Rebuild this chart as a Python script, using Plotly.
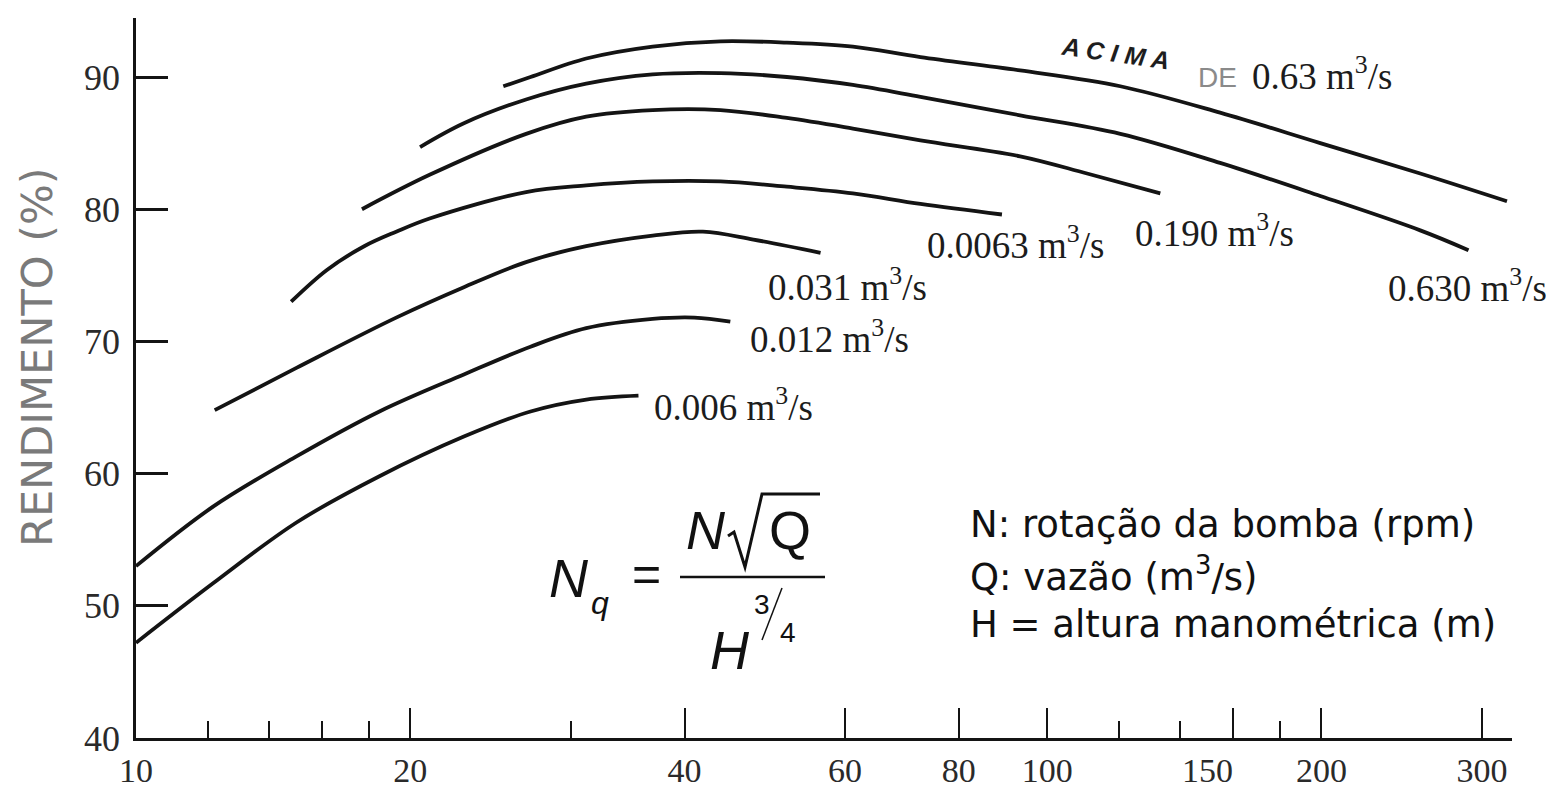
import math
import plotly.graph_objects as go

# ---------------- data ----------------
# x = specific speed Nq (log axis), y = efficiency (%)
q006_x = [10.0, 12.15, 15.0, 18.5, 22.9, 27.1, 31.2, 35.6]
q006_y = [47.2, 51.7, 56.3, 59.8, 62.8, 64.7, 65.6, 65.9]

q012_x = [10.0, 12.15, 15.0, 18.5, 22.9, 27.1, 31.2, 36.9, 41.0, 44.9]
q012_y = [53.0, 57.5, 61.3, 64.7, 67.5, 69.6, 71.0, 71.7, 71.8, 71.5]

q031_x = [12.2, 15.0, 19.3, 22.9, 26.8, 31.2, 36.9, 41.9, 47.6, 56.4]
q031_y = [64.8, 68.0, 71.8, 74.1, 76.0, 77.2, 78.0, 78.3, 77.7, 76.7]

q0063_x = [14.8, 16.2, 17.8, 19.3, 21.0, 26.8, 31.2, 36.9, 43.8, 51.8, 61.2, 72.6, 89.2]
q0063_y = [73.0, 75.4, 77.2, 78.3, 79.3, 81.3, 81.8, 82.1, 82.1, 81.7, 81.2, 80.4, 79.6]

q190_x = [17.7, 21.0, 26.8, 31.2, 36.9, 43.8, 51.8, 61.2, 72.6, 93.4, 110.6, 133.1]
q190_y = [80.0, 82.6, 85.7, 87.0, 87.5, 87.5, 86.9, 86.1, 85.2, 84.0, 82.7, 81.2]

q630_x = [20.5, 22.9, 26.8, 31.2, 36.9, 43.8, 51.8, 61.2, 72.6, 93.4, 120.3, 154.8, 199.4, 256.7, 290.0]
q630_y = [84.7, 86.5, 88.3, 89.5, 90.2, 90.3, 90.0, 89.4, 88.5, 87.1, 85.7, 83.5, 81.0, 78.4, 76.9]

qabove_x = [25.3, 27.1, 31.2, 36.9, 43.8, 51.8, 61.2, 72.6, 93.4, 120.3, 154.8, 199.4, 256.7, 319.6]
qabove_y = [89.3, 90.0, 91.4, 92.3, 92.7, 92.6, 92.3, 91.5, 90.5, 89.3, 87.3, 85.0, 82.7, 80.6]

series_names = ["0.006 m³/s", "0.012 m³/s", "0.031 m³/s", "0.0063 m³/s",
                "0.190 m³/s", "0.630 m³/s", "ACIMA DE 0.63 m³/s"]
series_labels = ["0.006 m<sup>3</sup>/s", "0.012 m<sup>3</sup>/s", "0.031 m<sup>3</sup>/s",
                 "0.0063 m<sup>3</sup>/s", "0.190 m<sup>3</sup>/s", "0.630 m<sup>3</sup>/s", None]

x_label_vals = [10, 20, 40, 60, 80, 100, 150, 200, 300]
x_label_text = ["10", "20", "40", "60", "80", "100", "150", "200", "300"]
x_tall_ticks = [20, 40, 60, 80, 100, 160, 200, 300]
x_short_ticks = [12, 14, 16, 18, 30, 120, 140, 180]
y_tick_vals = [40, 50, 60, 70, 80, 90]

y_title = "RENDIMENTO (%)"
legend_lines = ["N: rotação da bomba (rpm)", "Q: vazão (m<sup>3</sup>/s)",
                "H = altura manométrica (m)"]

# ---------------- figure ----------------
# the page body adds an 8 px offset; figure coordinates = screen - 8
OFF = 8
W, H = 1546, 781
L, R, T, B = 128, 42, 10, 51
PW, PH = W - L - R, H - T - B


def pxx(xp):
    return (xp - OFF - L) / PW


def pxy(yp):
    return (H - B - (yp - OFF)) / PH


SERIF = "Liberation Serif, Times New Roman, serif"
SANS = "Liberation Sans, Arial, sans-serif"
INK = "#141414"

xs = [q006_x, q012_x, q031_x, q0063_x, q190_x, q630_x, qabove_x]
ys = [q006_y, q012_y, q031_y, q0063_y, q190_y, q630_y, qabove_y]

fig = go.Figure()
for xv, yv, nm in zip(xs, ys, series_names):
    fig.add_trace(go.Scatter(x=xv, y=yv, name=nm, mode="lines",
                             line=dict(color=INK, width=3.8, shape="spline", smoothing=1.0),
                             showlegend=False, hoverinfo="x+y+name"))

# label offsets (pixels) relative to each curve's last point
label_offsets = [(14, -9), (18, -15), (-55, -32), (-77, -28), (-27, -37), (-83, -35)]
annotations = []
for xv, yv, lab, off in zip(xs, ys, series_labels, label_offsets):
    if lab is None:
        continue
    annotations.append(dict(x=math.log10(xv[-1]), y=yv[-1], xref="x", yref="y",
                            text=lab, showarrow=False, xanchor="left", yanchor="middle",
                            xshift=off[0], yshift=off[1],
                            font=dict(family=SERIF, size=37, color="#1c1c1c")))


def txt(x, y, text, size, family=SANS, color="#111", **kw):
    d = dict(x=pxx(x), y=pxy(y), xref="paper", yref="paper", text=text,
             showarrow=False, xanchor="center", yanchor="middle",
             font=dict(family=family, size=size, color=color))
    d.update(kw)
    return d


# label of the top curve
annotations += [
    txt(1115, 53, "<b><i>A C I M A</i></b>", 25, color="#1e1e1e", textangle=8),
    txt(1217, 77, "DE", 28, color="#8a8a8a"),
    txt(1250, 74, "0.63 m<sup>3</sup>/s", 37, family=SERIF, color="#1c1c1c", xanchor="left"),
]

# y axis title
annotations.append(txt(37, 357, y_title, 43, family="DejaVu Sans, sans-serif",
                       color="#7a7a7a", textangle=-90))

# formula Nq = N sqrt(Q) / H^(3/4)
annotations += [
    txt(569, 578, "<i>N</i>", 54),
    txt(600, 603, "<i>q</i>", 32),
    txt(646, 574, "=", 50),
    txt(706, 530, "<i>N</i>", 54),
    txt(790, 530, "Q", 54),
    txt(730, 650, "<i>H</i>", 54),
    txt(762, 604, "3", 28),
    txt(788, 632, "4", 28),
]

# legend text on the right
for i, line in enumerate(legend_lines):
    annotations.append(txt(968, 524 + 50 * i, line, 37, family="DejaVu Sans, sans-serif",
                           xanchor="left"))

shapes = [
    # fraction bar
    dict(type="line", xref="paper", yref="paper", x0=pxx(680), x1=pxx(825),
         y0=pxy(577), y1=pxy(577), line=dict(color="#111", width=2.5)),
    # radical sign
    dict(type="path", xref="paper", yref="paper",
         path=f"M {pxx(728)},{pxy(536)} L {pxx(734)},{pxy(532)} L {pxx(745)},{pxy(567)} "
              f"L {pxx(762)},{pxy(494)} L {pxx(820)},{pxy(494)}",
         line=dict(color="#111", width=3)),
    # fraction slash of 3/4
    dict(type="line", xref="paper", yref="paper", x0=pxx(762), x1=pxx(782),
         y0=pxy(640), y1=pxy(588), line=dict(color="#111", width=1.5)),
]

XR = [1, math.log10(323.7)]
fig.update_layout(
    width=W, height=H,
    margin=dict(l=L, r=R, t=T, b=B, pad=0, autoexpand=False),
    paper_bgcolor="white", plot_bgcolor="white",
    showlegend=False,
    annotations=annotations,
    shapes=shapes,
    xaxis=dict(type="log", range=XR, showgrid=False, zeroline=False, automargin=False,
               showline=True, linecolor=INK, linewidth=2.5,
               tickmode="array", tickvals=x_label_vals, ticktext=x_label_text,
               ticks="", ticklabelstandoff=0,
               tickfont=dict(family=SERIF, size=34, color="#2a2a2a"),
               minor=dict(tickmode="array", tickvals=x_short_ticks, ticks="inside",
                          ticklen=17, tickwidth=2, tickcolor=INK, showgrid=False)),
    xaxis2=dict(type="log", range=XR, overlaying="x", side="bottom", automargin=False,
                showgrid=False, zeroline=False, showline=False, showticklabels=False,
                tickmode="array", tickvals=x_tall_ticks, ticks="inside", ticklen=30,
                tickwidth=2, tickcolor=INK),
    yaxis=dict(range=[40, 40 + PH / 13.22], showgrid=False, zeroline=False, automargin=False,
               showline=True, linecolor=INK, linewidth=2.5,
               tickmode="array", tickvals=y_tick_vals, ticks="inside", ticklen=32,
               tickwidth=2.5, tickcolor=INK, ticklabelstandoff=6,
               tickfont=dict(family=SERIF, size=36, color="#2a2a2a")),
)
# empty trace so the overlay axis carrying the long ticks is drawn
fig.add_trace(go.Scatter(x=[], y=[], xaxis="x2", showlegend=False, hoverinfo="skip"))

fig.write_html("out.html")
